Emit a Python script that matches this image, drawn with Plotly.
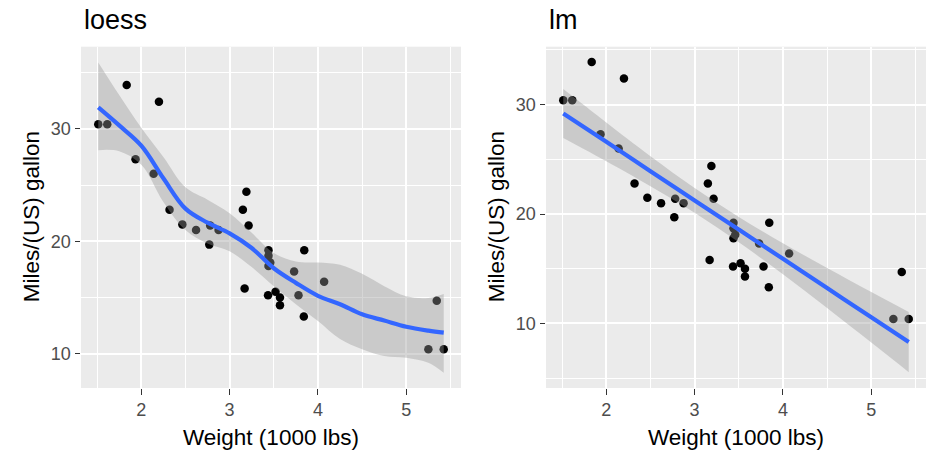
import plotly.graph_objects as go

# ---- data (mtcars: weight vs mpg) ----
wt = [2.620, 2.875, 2.320, 3.215, 3.440, 3.460, 3.570, 3.190, 3.150, 3.440, 3.440,
      4.070, 3.730, 3.780, 5.250, 5.424, 5.345, 2.200, 1.615, 1.835, 2.465, 3.520,
      3.435, 3.840, 3.845, 1.935, 2.140, 1.513, 3.170, 2.770, 3.570, 2.780]
mpg = [21.0, 21.0, 22.8, 21.4, 18.7, 18.1, 14.3, 24.4, 22.8, 19.2, 17.8,
       16.4, 17.3, 15.2, 10.4, 10.4, 14.7, 32.4, 30.4, 33.9, 21.5, 15.5,
       15.2, 13.3, 19.2, 27.3, 26.0, 30.4, 15.8, 19.7, 15.0, 21.4]

# loess smooth
loess_x = [1.513, 1.75, 2.0, 2.25, 2.5, 2.75, 3.0, 3.25, 3.5, 3.75, 4.0, 4.25, 4.5, 4.75, 5.0, 5.25, 5.424]
loess_fit = [31.9, 30.3, 28.5, 25.6, 22.9, 21.65, 20.7, 19.4, 17.6, 16.3, 15.15, 14.4, 13.5, 12.95, 12.4, 12.05, 11.87]
loess_hi = [35.9, 33.0, 30.1, 27.5, 24.8, 23.7, 22.5, 20.75, 18.95, 18.2, 18.1, 17.9, 17.1, 16.0, 15.1, 14.95, 15.3]
loess_lo = [28.1, 28.0, 26.8, 23.5, 21.0, 19.8, 19.1, 17.7, 16.0, 14.4, 12.9, 11.3, 10.4, 9.8, 9.65, 9.2, 8.3]

# lm smooth
lm_x = [1.513, 1.75, 2.0, 2.5, 3.0, 3.5, 4.0, 4.5, 5.0, 5.424]
lm_fit = [29.20, 27.93, 26.60, 23.92, 21.25, 18.58, 15.91, 13.24, 10.56, 8.30]
lm_hi = [31.43, 29.94, 28.37, 25.29, 22.38, 19.73, 17.33, 15.07, 12.87, 11.05]
lm_lo = [26.96, 25.93, 24.83, 22.55, 20.12, 17.43, 14.49, 11.41, 8.25, 5.55]

x_ticks = [2, 3, 4, 5]
y_ticks = [10, 20, 30]
titles = ["loess", "lm"]
x_title = "Weight (1000 lbs)"
y_title = "Miles/(US) gallon"

W, H = 937, 469
FONT = "Liberation Sans, Arial, sans-serif"
BAND = "rgba(153,153,153,0.4)"
LINE = "#3366FF"

fig = go.Figure()

panels = [
    dict(xa="x", ya="y", sx=loess_x, fit=loess_fit, hi=loess_hi, lo=loess_lo,
         px=(81, 461), yr=[6.95, 37.3], yminor=[15, 25, 35]),
    dict(xa="x2", ya="y2", sx=lm_x, fit=lm_fit, hi=lm_hi, lo=lm_lo,
         px=(546, 926), yr=[4.1, 35.3], yminor=[5, 15, 25, 35]),
]
top_px, bot_px = 46.7, 388

for i, p in enumerate(panels):
    fig.add_trace(go.Scatter(x=wt, y=mpg, mode="markers", xaxis=p["xa"], yaxis=p["ya"],
                             marker=dict(color="black", size=8.5, line=dict(width=0)),
                             showlegend=False, hoverinfo="skip"))
    fig.add_trace(go.Scatter(x=p["sx"], y=p["lo"], mode="lines", xaxis=p["xa"], yaxis=p["ya"],
                             line=dict(width=0, shape="spline", color=BAND),
                             showlegend=False, hoverinfo="skip"))
    fig.add_trace(go.Scatter(x=p["sx"], y=p["hi"], mode="lines", xaxis=p["xa"], yaxis=p["ya"],
                             line=dict(width=0, shape="spline", color=BAND),
                             fill="tonexty", fillcolor=BAND,
                             showlegend=False, hoverinfo="skip"))
    fig.add_trace(go.Scatter(x=p["sx"], y=p["fit"], mode="lines", xaxis=p["xa"], yaxis=p["ya"],
                             line=dict(width=4.2, shape="spline", color=LINE),
                             showlegend=False, hoverinfo="skip"))

    suffix = "" if i == 0 else "2"
    common = dict(showgrid=True, gridcolor="white", gridwidth=2.2, zeroline=False,
                  showline=False, ticks="outside", ticklen=5.5, tickwidth=1.1,
                  tickcolor="#333333", tickfont=dict(family=FONT, size=18, color="#4D4D4D"))
    fig.update_layout(**{
        "xaxis" + suffix: dict(domain=[p["px"][0] / W, p["px"][1] / W], range=[1.3175, 5.6195],
                               tickvals=x_ticks, anchor="y" + suffix,
                               minor=dict(tickvals=[1.5, 2.5, 3.5, 4.5, 5.5], showgrid=True,
                                          gridcolor="white", gridwidth=1.1, ticks=""),
                               **common),
        "yaxis" + suffix: dict(domain=[1 - bot_px / H, 1 - top_px / H], range=p["yr"],
                               tickvals=y_ticks, anchor="x" + suffix,
                               minor=dict(tickvals=p["yminor"], showgrid=True,
                                          gridcolor="white", gridwidth=1.1, ticks=""),
                               **common),
    })

    cx = (p["px"][0] + p["px"][1]) / 2
    cy = (top_px + bot_px) / 2
    fig.add_annotation(text=titles[i], xref="paper", yref="paper", x=(p["px"][0] + 0.5) / W,
                       y=1 - 20 / H, xanchor="left", yanchor="middle", showarrow=False,
                       font=dict(family=FONT, size=27, color="black"))
    fig.add_annotation(text=x_title, xref="paper", yref="paper", x=cx / W, y=1 - 437 / H,
                       xanchor="center", yanchor="middle", showarrow=False,
                       font=dict(family=FONT, size=22.5, color="black"))
    fig.add_annotation(text=y_title, xref="paper", yref="paper", x=(p["px"][0] - 50) / W,
                       y=1 - cy / H, xanchor="center", yanchor="middle", textangle=-90,
                       showarrow=False, font=dict(family=FONT, size=22.5, color="black"))

fig.update_layout(width=W, height=H, margin=dict(l=0, r=0, t=0, b=0),
                  paper_bgcolor="white", plot_bgcolor="#EBEBEB", showlegend=False)

fig.write_html("out.html", config={"displayModeBar": False},
               post_script="document.body.style.margin='0';")
